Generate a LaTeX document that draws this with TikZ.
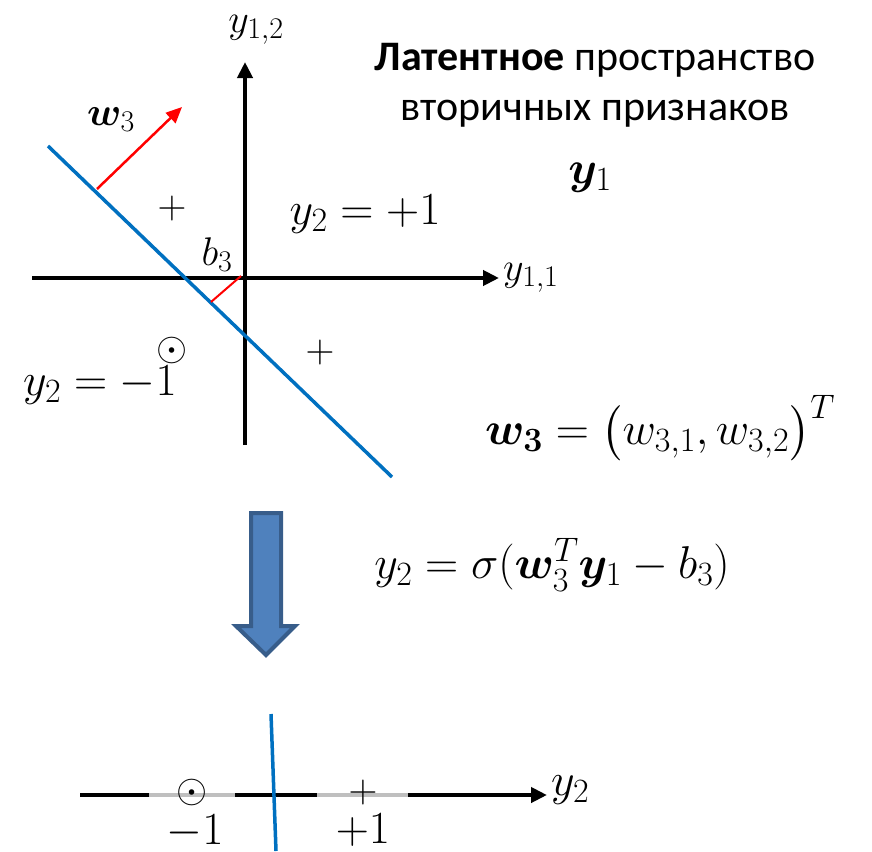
\RequirePackage{fix-cm}
\documentclass[tikz,border=0pt]{standalone}
\usepackage{amsmath,amssymb,bm}
\usepackage[no-math]{fontspec}
\setmainfont{Carlito}
\usetikzlibrary{arrows.meta}
\DeclareMathSizes{46}{46}{34}{26}
\DeclareMathSizes{40}{40}{30}{22}
\definecolor{LineBlue}{HTML}{0070C0}
\definecolor{ArrowFill}{HTML}{4F81BD}
\definecolor{ArrowEdge}{HTML}{385D8A}
\definecolor{GapGray}{HTML}{BFBFBF}

\begin{document}
\begin{tikzpicture}[x=1pt,y=-1pt,
    ax/.style={line width=4pt,-{Triangle[length=16pt,width=15pt]}},
    sep/.style={line width=3.5pt,LineBlue},
    big/.style={inner sep=0pt,font=\fontsize{46}{54}\selectfont},
    mid/.style={inner sep=0pt,font=\fontsize{40}{48}\selectfont},
    ttl/.style={inner sep=0pt,font=\fontsize{42}{50}\selectfont,align=center}]
    \useasboundingbox (0,0) rectangle (872,851);
    % upper plane
    \coordinate (xl) at (32,278);
    \coordinate (xr) at (499,278);
    \coordinate (yb) at (245,445);
    \coordinate (yt) at (245,62);
    \coordinate (s1) at (48,146);
    \coordinate (s2) at (392,477);
    \coordinate (wa) at (97,189);
    \coordinate (wb) at (182,107);
    \coordinate (ba) at (241,276);
    \coordinate (bb) at (211,302);
    \draw[ax] (xl) -- (xr);
    \draw[ax] (yb) -- (yt);
    \draw[sep] (s1) -- (s2);
    \draw[line width=2.5pt,red,-{Triangle[length=16pt,width=14pt]}] (wa) -- (wb);
    \draw[line width=2pt,red] (ba) -- (bb);
    \node[mid] (y12) at (256,30) {$y_{1,2}$};
    \node[mid,anchor=west] (y11) at (503,278) {$y_{1,1}$};
    \node[mid] (wlab) at (111,120) {$\bm{w}_3$};
    \node[mid] (blab) at (217,255) {$b_3$};
    \node[mid] (p1) at (172,208) {$+$};
    \node[mid] (p2) at (320,352) {$+$};
    \node[mid] (m1) at (172,350) {$\odot$};
    \node[big] (neg) at (100,385) {$y_2=-1$};
    \node[big] (pos) at (365,214) {$y_2=+1$};
    \node[ttl] (title) at (595,85) {\textbf{Латентное} пространство\\вторичных признаков};
    \node[big] (y1) at (590,178) {$\bm{y}_1$};
    \node[big] (wdef) at (660,428) {$\bm{w}_{\bm{3}}=\bigl(w_{3,1},w_{3,2}\bigr)^T$};
    % transition
    \draw[line width=4pt,ArrowEdge,fill=ArrowFill,line join=miter]
      (251,513) -- (281,513) -- (281,626) -- (295,626) -- (266,655)
      -- (236,626) -- (251,626) -- cycle;
    \node[big] (act) at (552,565) {$y_2=\sigma(\bm{w}_3^T\bm{y}_1-b_3)$};
    % output line
    \coordinate (bl) at (80,795);
    \coordinate (g1) at (149,795);
    \coordinate (g2) at (235,795);
    \coordinate (g3) at (317,795);
    \coordinate (g4) at (408,795);
    \coordinate (br) at (547,795);
    \coordinate (c1) at (271,714);
    \coordinate (c2) at (276,851);
    \draw[line width=4pt] (bl) -- (g1);
    \draw[line width=4pt,GapGray] (g1) -- (g2);
    \draw[line width=4pt] (g2) -- (g3);
    \draw[line width=4pt,GapGray] (g3) -- (g4);
    \draw[ax] (g4) -- (br);
    \draw[sep] (c1) -- (c2);
    \node[mid] (m2) at (192,792) {$\odot$};
    \node[mid] (p3) at (363,792) {$+$};
    \node[big] (lm) at (195,832) {$-1$};
    \node[big] (lp) at (363,830) {$+1$};
    \node[big,anchor=west] (y2) at (551,790) {$y_2$};
  \end{tikzpicture}
\end{document}
